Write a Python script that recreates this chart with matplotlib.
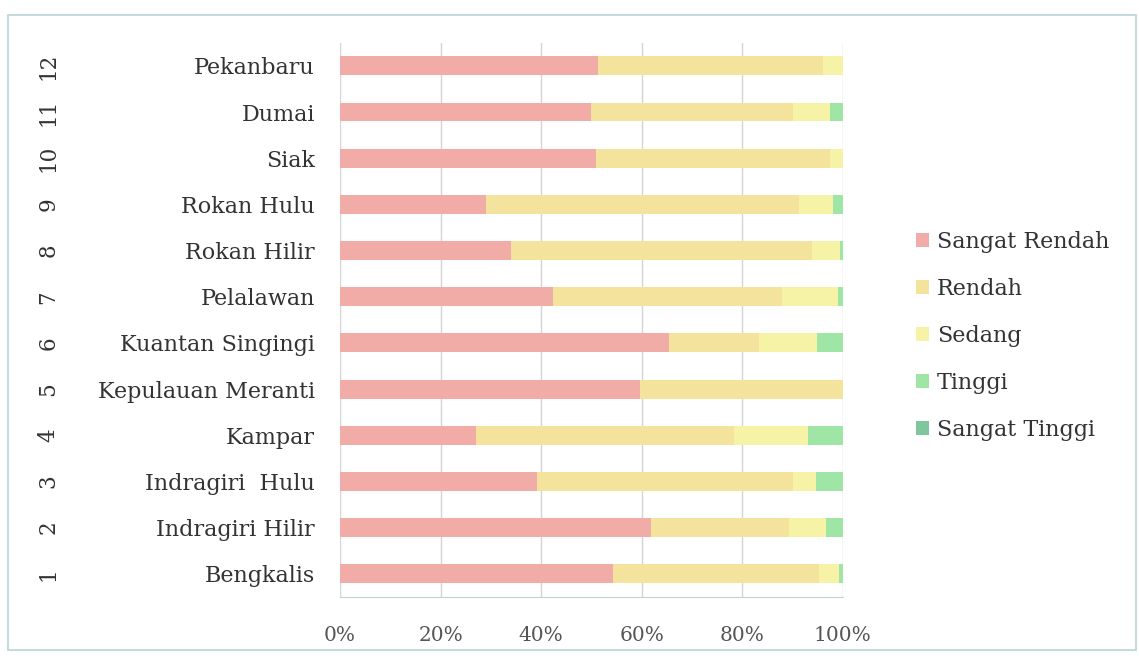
import matplotlib.pyplot as plt
from matplotlib.patches import Rectangle
import numpy as np

regions = ['Bengkalis', 'Indragiri Hilir', 'Indragiri  Hulu', 'Kampar',
           'Kepulauan Meranti', 'Kuantan Singingi', 'Pelalawan', 'Rokan Hilir',
           'Rokan Hulu', 'Siak', 'Dumai', 'Pekanbaru']
numbers = [str(i) for i in range(1, 13)]

# percentages per class, bottom (Bengkalis) to top (Pekanbaru)
sangat_rendah = [54.3, 61.9, 39.2, 27.0, 59.7, 65.4, 42.3, 34.0, 29.0, 51.0, 50.0, 51.4]
rendah        = [40.9, 27.3, 50.8, 51.3, 40.3, 18.0, 45.5, 59.8, 62.2, 46.4, 40.0, 44.7]
sedang        = [4.0,  7.4,  4.7, 14.7,  0.0, 11.4, 11.2,  5.7,  6.9,  2.6,  7.4,  3.9]
tinggi        = [0.8,  3.4,  5.3,  7.0,  0.0,  5.2,  1.0,  0.5,  1.9,  0.0,  2.6,  0.0]
sangat_tinggi = [0.0,  0.0,  0.0,  0.0,  0.0,  0.0,  0.0,  0.0,  0.0,  0.0,  0.0,  0.0]

series = [('Sangat Rendah', sangat_rendah, '#f2aca8'),
          ('Rendah', rendah, '#f3e39c'),
          ('Sedang', sedang, '#f6f2a6'),
          ('Tinggi', tinggi, '#9fe6a6'),
          ('Sangat Tinggi', sangat_tinggi, '#7ec79c')]

plt.rcParams['font.family'] = 'DejaVu Serif'

fig = plt.figure(figsize=(11.39, 6.58), dpi=100)
ax = fig.add_axes([0.2985, 0.093, 0.4415, 0.842])

y = np.arange(len(regions))
left = np.zeros(len(regions))
for name, vals, col in series:
    ax.barh(y, vals, left=left, height=0.41, color=col, label=name, zorder=3)
    left += np.array(vals)

ax.set_xlim(0, 100)
ax.set_ylim(-0.5, len(regions) - 0.5)
ax.set_xticks([0, 20, 40, 60, 80, 100])
ax.set_xticklabels(['0%', '20%', '40%', '60%', '80%', '100%'], fontsize=14.5, color='#555555')
ax.xaxis.grid(True, color='#d4d4d4', linewidth=1, zorder=0)
ax.tick_params(axis='x', length=0, pad=21)
ax.set_yticks(y)
ax.set_yticklabels(regions, fontsize=16, color='#333333')
ax.tick_params(axis='y', length=0, pad=18)
for s in ['top', 'right', 'left']:
    ax.spines[s].set_visible(False)
ax.spines['bottom'].set_color('#bcd4d4')

# outer category level: rotated row numbers
for yi, n in zip(y, numbers):
    ax.text(-0.58, yi, n, transform=ax.get_yaxis_transform(), rotation=90,
            ha='center', va='center', fontsize=15.5, color='#333333')

leg = ax.legend(loc='center left', bbox_to_anchor=(1.105, 0.471), frameon=False,
                fontsize=16, handlelength=0.6, handleheight=0.6,
                handletextpad=0.35, labelspacing=1.12)
for t in leg.get_texts():
    t.set_color('#333333')

fig.patches.append(Rectangle((0.007, 0.012), 0.99, 0.965, transform=fig.transFigure,
                             fill=False, edgecolor='#b8d4d4', linewidth=1.2))

fig.savefig('out.png', dpi=100)
